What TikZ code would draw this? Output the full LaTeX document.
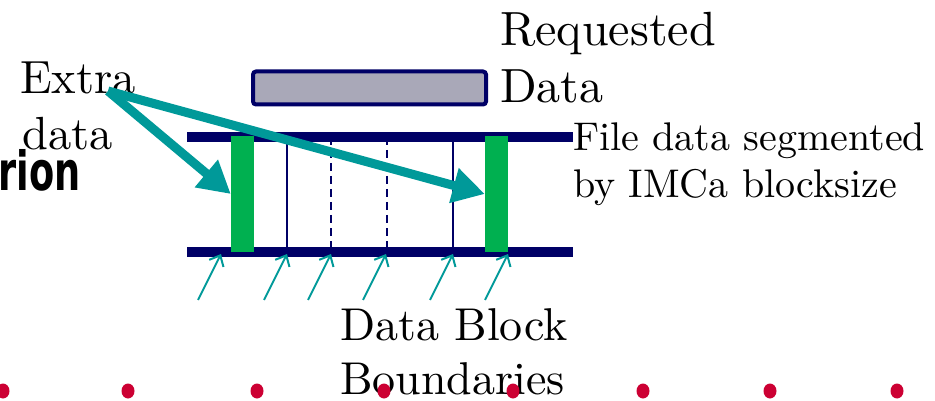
\documentclass[tikz,border=0pt]{standalone}
\usepackage{fontspec}
\setmainfont{lmroman10-regular}[Extension=.otf]
\newfontfamily\rionfont{DejaVu Sans}
\usetikzlibrary{arrows.meta}
\definecolor{navy}{RGB}{0,0,102}
\definecolor{teal2}{RGB}{0,153,153}
\definecolor{grn}{RGB}{0,176,80}
\definecolor{dotred}{RGB}{204,0,51}
\definecolor{boxgray}{RGB}{169,168,184}
\tikzset{
  txt/.style={anchor=base west,inner sep=0pt,font=\fontsize{48}{55}\selectfont},
  txtsmall/.style={anchor=base west,inner sep=0pt,font=\fontsize{40}{46}\selectfont},
  rail/.style={draw=navy,line width=10pt},
  block/.style={draw=navy,line width=2.5pt},
  dashblock/.style={draw=navy,line width=2.5pt,dash pattern=on 8pt off 5pt},
  greenbar/.style={fill=grn,draw=none},
  bigarrow/.style={draw=teal2,line width=9pt,-{Triangle[length=32pt,width=34pt]}},
  smallarrow/.style={draw=teal2,line width=2pt,-{Straight Barb[length=9pt,width=16pt,line width=2pt]}},
}
\begin{document}
\begin{tikzpicture}[x=1pt,y=-1pt]
\useasboundingbox (0,0) rectangle (935,401);
% texts
\node[txt] (req1) at (500,46) {Requested};
\node[txt] (req2) at (500,103) {Data};
\node[txt,font=\fontsize{46.5}{52}\selectfont] (ex1) at (20,94) {Extra};
\node[txt,font=\fontsize{46.5}{52}\selectfont] (ex2) at (22,150) {data};
\node[txtsmall] (fd1) at (573,151) {File data segmented};
\node[txtsmall] (fd2) at (573,197) {by IMCa blocksize};
\node[txt,font=\fontsize{46}{55}\selectfont] (db1) at (340,340) {Data Block};
\node[txt,font=\fontsize{46}{55}\selectfont] (db2) at (340,394) {Boundaries};
\node[anchor=base east,inner sep=0pt,xscale=0.68,font=\rionfont\bfseries\fontsize{54}{60}\selectfont] (rion) at (81,190) {rion};
% requested data box
\node[draw=navy,line width=4pt,fill=boxgray,rounded corners=3pt,minimum width=233pt,minimum height=33pt,inner sep=0pt] (reqbox) at (369.5,88) {};
% rails
\coordinate (tl) at (187,137);
\coordinate (tr) at (573,137);
\coordinate (bl) at (187,252);
\coordinate (br) at (573,252);
\draw[rail] (tl) -- (tr);
\draw[rail] (bl) -- (br);
% block boundaries
\coordinate (b1t) at (287,137); \coordinate (b1b) at (287,252);
\coordinate (b2t) at (331,137); \coordinate (b2b) at (331,252);
\coordinate (b3t) at (387,137); \coordinate (b3b) at (387,252);
\coordinate (b4t) at (453,137); \coordinate (b4b) at (453,252);
\draw[block] (b1t) -- (b1b);
\draw[dashblock] (b2t) -- (b2b);
\draw[dashblock] (b3t) -- (b3b);
\draw[block] (b4t) -- (b4b);
% green bars
\node[greenbar,minimum width=23pt,minimum height=115pt,inner sep=0pt] (gl) at (242.5,194) {};
\node[greenbar,minimum width=23pt,minimum height=115pt,inner sep=0pt] (gr) at (496.5,194) {};
% big arrows
\coordinate (exstart) at (108,91);
\draw[bigarrow] (exstart) -- (gl.west);
\draw[bigarrow] (exstart) -- (gr.west);
% small arrows
\coordinate (s1) at (198,300); \coordinate (e1) at (221,254);
\coordinate (s2) at (264,300); \coordinate (e2) at (287,254);
\coordinate (s3) at (308,300); \coordinate (e3) at (331,254);
\coordinate (s4) at (363,300); \coordinate (e4) at (386,254);
\coordinate (s5) at (430,300); \coordinate (e5) at (453,254);
\coordinate (s6) at (485,300); \coordinate (e6) at (508,254);
\foreach \i in {1,...,6} {\draw[smallarrow] (s\i) -- (e\i);}
% red dots
\foreach \x in {3,128,257,384,513,643,770,897}
  {\fill[dotred] (\x,391) ellipse [x radius=6.5pt,y radius=7.5pt];}
\end{tikzpicture}
\end{document}
